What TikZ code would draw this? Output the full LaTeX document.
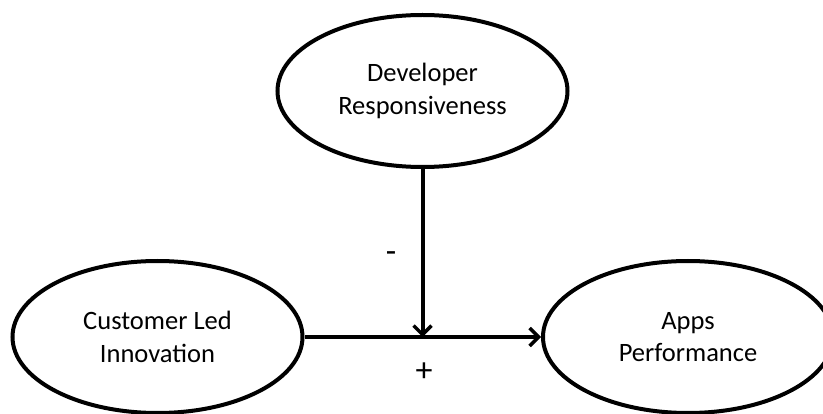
\documentclass[tikz,border=0pt]{standalone}
\usepackage{fontspec}
\setmainfont{Carlito}
\usetikzlibrary{shapes.geometric,arrows.meta}
\begin{document}
\begin{tikzpicture}[x=1pt,y=-1pt,
  construct/.style={ellipse,draw,line width=4pt,inner sep=0pt,
    minimum width=290pt,minimum height=152pt,align=center,
    font=\fontsize{26.5}{32.5}\selectfont},
  link/.style={line width=4pt,-{Straight Barb[length=9pt,width=18pt,line width=3.5pt]}},
  sign/.style={font=\fontsize{34}{36}\selectfont,inner sep=0pt}]
\useasboundingbox (0,0) rectangle (823,414);
\node[construct] (dev) at (422.5,91) {Developer\\Responsiveness};
\node[construct] (cli) at (157.5,337) {Customer Led\\Innovation};
\node[construct] (app) at (688,337) {Apps\\Performance};
\draw[link] (cli.east) -- (app.west);
\coordinate (meet) at (dev.south |- cli.east);
\draw[link] (dev.south) -- (meet);
\node[sign] (minus) at (391,257) {-};
\node[sign] (plus) at (424,372) {+};
\end{tikzpicture}
\end{document}
